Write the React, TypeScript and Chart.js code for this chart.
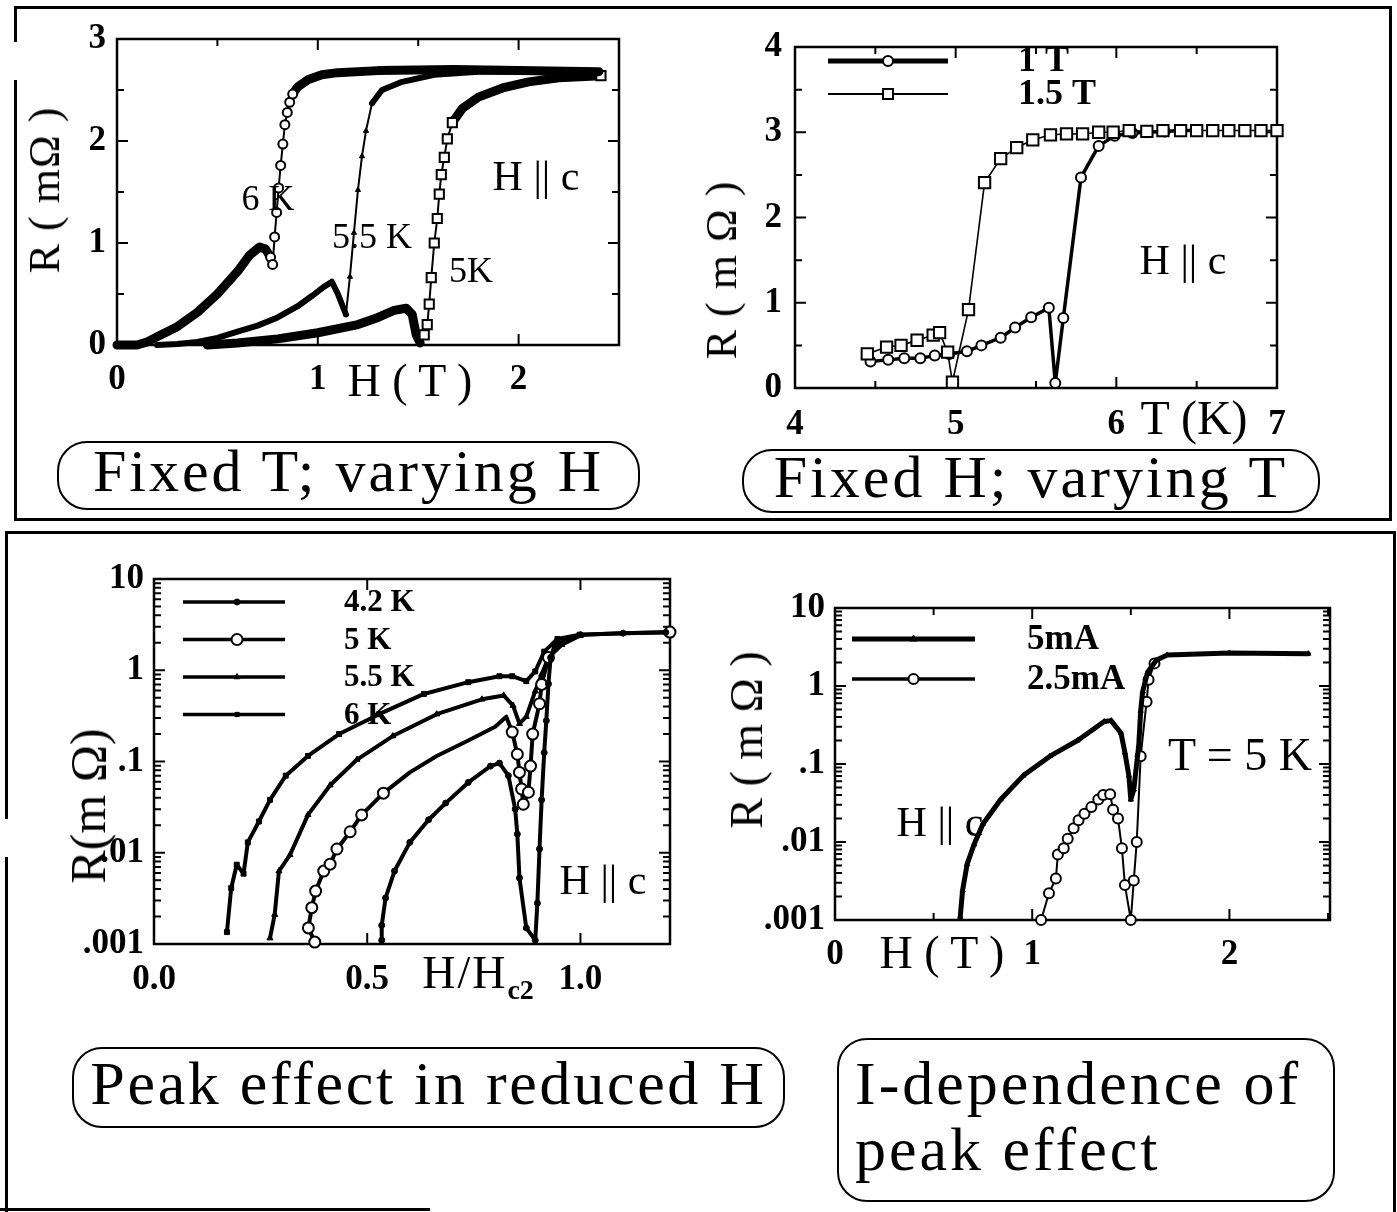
import React, { useEffect, useRef } from 'react';
import { Chart, registerables } from 'chart.js';

Chart.register(...registerables);

const SERIF = '"Liberation Serif", "Times New Roman", Times, serif';

// ---------- Fixed T, varying H : R (mΩ) vs H (T) ----------
const fieldAt6K = [0, 0.1, 0.15, 0.2, 0.3, 0.4, 0.5, 0.6, 0.66, 0.71, 0.74, 0.765, 0.775, 0.785, 0.795, 0.805, 0.815, 0.826, 0.836, 0.848, 0.86, 0.875, 0.9, 0.95, 1.02, 1.1, 1.3, 1.68, 2.0, 2.4];
const resAt6K = [0, 0, 0.03, 0.08, 0.18, 0.32, 0.5, 0.72, 0.88, 0.96, 0.94, 0.86, 0.79, 1.06, 1.3, 1.54, 1.76, 1.97, 2.16, 2.28, 2.38, 2.46, 2.53, 2.6, 2.65, 2.67, 2.69, 2.7, 2.69, 2.68];
const fieldAt55K = [0.2, 0.3, 0.4, 0.5, 0.6, 0.7, 0.8, 0.9, 0.97, 1.03, 1.07, 1.1, 1.14, 1.16, 1.18, 1.2, 1.22, 1.24, 1.27, 1.32, 1.42, 1.58, 1.8, 2.1];
const resAt55K = [0, 0.01, 0.03, 0.07, 0.13, 0.19, 0.27, 0.38, 0.48, 0.57, 0.62, 0.5, 0.3, 0.67, 1.1, 1.52, 1.85, 2.1, 2.37, 2.5, 2.58, 2.65, 2.68, 2.68];
const fieldAt5K = [0.45, 0.6, 0.8, 1.0, 1.2, 1.3, 1.38, 1.44, 1.47, 1.49, 1.51, 1.53, 1.545, 1.555, 1.565, 1.58, 1.595, 1.605, 1.615, 1.63, 1.645, 1.67, 1.72, 1.8, 1.92, 2.05, 2.2, 2.41];
const resAt5K = [0, 0.02, 0.06, 0.12, 0.2, 0.27, 0.34, 0.36, 0.3, 0.1, 0.02, 0.1, 0.2, 0.4, 0.66, 1.0, 1.24, 1.48, 1.67, 1.84, 2.02, 2.18, 2.32, 2.43, 2.52, 2.58, 2.62, 2.64];

// ---------- Fixed H, varying T : R (mΩ) vs T (K) ----------
const tempAt1T = [4.47, 4.58, 4.68, 4.78, 4.87, 4.96, 5.07, 5.16, 5.28, 5.37, 5.47, 5.58, 5.62, 5.67, 5.78, 5.89, 5.99, 6.1, 6.19, 6.3, 6.4, 6.5];
const resAt1T = [0.31, 0.33, 0.35, 0.35, 0.38, 0.4, 0.43, 0.5, 0.59, 0.71, 0.83, 0.94, 0.06, 0.82, 2.47, 2.84, 2.96, 2.99, 3.0, 3.01, 3.02, 3.02];
const tempAt15T = [4.45, 4.57, 4.66, 4.76, 4.86, 4.9, 4.95, 4.98, 5.08, 5.18, 5.28, 5.38, 5.48, 5.59, 5.69, 5.79, 5.89, 5.98, 6.08, 6.19, 6.29, 6.4, 6.5, 6.6, 6.7, 6.8, 6.9, 7.0];
const resAt15T = [0.4, 0.48, 0.5, 0.56, 0.62, 0.65, 0.42, 0.07, 0.92, 2.41, 2.69, 2.82, 2.91, 2.97, 2.98, 2.98, 3.0, 3.0, 3.02, 3.01, 3.02, 3.02, 3.02, 3.02, 3.02, 3.02, 3.02, 3.02];

// ---------- Reduced field H/Hc2 : R (mΩ), log ----------
const redAt42K = [0.534, 0.534, 0.543, 0.564, 0.6, 0.644, 0.684, 0.737, 0.789, 0.81, 0.831, 0.847, 0.852, 0.857, 0.873, 0.894, 0.899, 0.904, 0.909, 0.915, 0.92, 0.925, 0.93, 0.94, 1.0, 1.1, 1.2];
const logResAt42K = [0.0011, 0.0016, 0.0032, 0.0063, 0.013, 0.023, 0.035, 0.059, 0.089, 0.096, 0.07, 0.03, 0.016, 0.0053, 0.0015, 0.0011, 0.0028, 0.011, 0.038, 0.125, 0.28, 0.71, 1.38, 1.9, 2.45, 2.55, 2.6];
const redAt5K = [0.377, 0.362, 0.37, 0.379, 0.398, 0.413, 0.429, 0.46, 0.487, 0.538, 0.6, 0.663, 0.737, 0.8, 0.826, 0.84, 0.852, 0.857, 0.862, 0.866, 0.878, 0.883, 0.888, 0.904, 0.909, 0.925, 0.96, 1.0, 1.1, 1.21];
const logResAt5K = [0.00105, 0.0015, 0.0025, 0.0038, 0.0063, 0.0075, 0.011, 0.017, 0.026, 0.045, 0.076, 0.115, 0.17, 0.24, 0.31, 0.21, 0.12, 0.076, 0.05, 0.034, 0.046, 0.089, 0.2, 0.43, 0.7, 1.38, 2.1, 2.45, 2.55, 2.62];
const redAt55K = [0.272, 0.283, 0.293, 0.319, 0.361, 0.413, 0.476, 0.56, 0.663, 0.769, 0.82, 0.842, 0.857, 0.873, 0.894, 0.909, 0.925, 0.956, 1.0];
const logResAt55K = [0.00116, 0.0021, 0.0063, 0.0095, 0.026, 0.055, 0.105, 0.19, 0.33, 0.48, 0.53, 0.41, 0.26, 0.31, 0.59, 0.9, 1.38, 1.9, 2.4];
const redAt6K = [0.171, 0.181, 0.194, 0.21, 0.22, 0.246, 0.272, 0.309, 0.361, 0.434, 0.528, 0.633, 0.737, 0.81, 0.84, 0.873, 0.894, 0.915, 0.946, 0.998];
const logResAt6K = [0.00135, 0.0041, 0.0074, 0.0059, 0.013, 0.022, 0.038, 0.07, 0.115, 0.2, 0.33, 0.55, 0.74, 0.86, 0.86, 0.76, 0.97, 1.6, 2.2, 2.45];

// ---------- Current dependence, T = 5 K : R (mΩ) vs H (T), log ----------
const fieldAt5mA = [0.635, 0.647, 0.67, 0.705, 0.75, 0.84, 0.955, 1.09, 1.23, 1.365, 1.4, 1.45, 1.47, 1.49, 1.5, 1.515, 1.54, 1.55, 1.56, 1.585, 1.63, 1.685, 2.0, 2.4];
const resAt5mA = [0.0011, 0.0024, 0.0052, 0.0093, 0.017, 0.035, 0.071, 0.126, 0.2, 0.35, 0.36, 0.25, 0.14, 0.071, 0.035, 0.047, 0.17, 0.48, 0.85, 1.5, 2.15, 2.5, 2.65, 2.6];
const fieldAt25mA = [1.045, 1.085, 1.12, 1.13, 1.16, 1.18, 1.21, 1.235, 1.265, 1.3, 1.335, 1.36, 1.395, 1.41, 1.435, 1.455, 1.47, 1.5, 1.515, 1.53, 1.55, 1.58, 1.59, 1.62];
const resAt25mA = [0.001, 0.0022, 0.0034, 0.0069, 0.0083, 0.011, 0.015, 0.019, 0.023, 0.028, 0.035, 0.04, 0.041, 0.026, 0.02, 0.0083, 0.0028, 0.001, 0.0032, 0.01, 0.126, 0.63, 1.2, 1.95];

// tick labels
const decadeLabels: Record<string, string> = { '-3': '.001', '-2': '.01', '-1': '.1', '0': '1', '1': '10' };
const reducedLabels: Record<string, string> = { '0': '0.0', '0.5': '0.5', '1': '1.0' };

const xy = (xs: number[], ys: number[]) => xs.map((x, i) => ({ x, y: ys[i] }));

// ---------- layout ----------
type Area = { l: number; t: number; r: number; b: number };
const AXW = 100;
const AXH = 70;
const PADT = 25;
const PADR = 25;

const areaFixedT: Area = { l: 117, t: 32, r: 619, b: 345 };
const areaFixedH: Area = { l: 795, t: 38, r: 1277, b: 388 };
const areaReduced: Area = { l: 154, t: 573, r: 670, b: 944 };
const areaCurrent: Area = { l: 835, t: 602, r: 1330, b: 920 };

// ---------- drawing helpers ----------
function drawMarker(ctx: CanvasRenderingContext2D, style: string, x: number, y: number, r: number, fill: string, lw: number) {
  ctx.save();
  ctx.lineWidth = lw;
  ctx.strokeStyle = '#000';
  ctx.fillStyle = fill;
  ctx.beginPath();
  if (style === 'rect') {
    const s = r * Math.SQRT1_2;
    ctx.rect(x - s, y - s, 2 * s, 2 * s);
  } else if (style === 'triangle') {
    ctx.moveTo(x, y - r);
    ctx.lineTo(x + r * 0.866, y + r * 0.5);
    ctx.lineTo(x - r * 0.866, y + r * 0.5);
    ctx.closePath();
  } else {
    ctx.arc(x, y, r, 0, Math.PI * 2);
  }
  ctx.fill();
  ctx.stroke();
  ctx.restore();
}

const isIntegerMantissa = (v: number) => {
  const m = v / Math.pow(10, Math.floor(Math.log10(v) + 1e-9));
  return Math.abs(m - Math.round(m)) < 1e-6;
};

// Boxed frame with inward ticks on all four sides
const frameTicks = {
  id: 'frameTicks',
  beforeDatasetsDraw(chart: any, _args: any, opts: any) {
    const { ctx, chartArea: a } = chart;
    const major = opts.majorLength ?? 11;
    const minor = opts.minorLength ?? 7;
    ctx.save();
    ctx.strokeStyle = '#000';
    ctx.lineWidth = opts.tickWidth ?? 2;
    ctx.beginPath();
    const xs = chart.scales.x;
    for (const t of xs.ticks) {
      if (xs.type === 'logarithmic' && !isIntegerMantissa(t.value)) continue;
      const p = xs.getPixelForValue(t.value);
      const len = t.label ? major : minor;
      ctx.moveTo(p, a.bottom);
      ctx.lineTo(p, a.bottom - len);
      ctx.moveTo(p, a.top);
      ctx.lineTo(p, a.top + len);
    }
    const ys = chart.scales.y;
    for (const t of ys.ticks) {
      if (ys.type === 'logarithmic' && !isIntegerMantissa(t.value)) continue;
      const p = ys.getPixelForValue(t.value);
      const len = t.label ? major : minor;
      ctx.moveTo(a.left, p);
      ctx.lineTo(a.left + len, p);
      ctx.moveTo(a.right, p);
      ctx.lineTo(a.right - len, p);
    }
    ctx.stroke();
    ctx.lineWidth = opts.frameWidth ?? 2.5;
    ctx.strokeRect(a.left, a.top, a.right - a.left, a.bottom - a.top);
    ctx.restore();
  },
};

// Key drawn as a line segment with the series marker on it
const lineLegend = {
  id: 'lineLegend',
  afterDraw(chart: any, _args: any, opts: any) {
    if (!opts || opts.left == null) return;
    const { ctx, chartArea: a } = chart;
    ctx.save();
    ctx.font = opts.font;
    ctx.textBaseline = 'middle';
    ctx.textAlign = 'left';
    chart.data.datasets.forEach((ds: any, i: number) => {
      const y = a.top + opts.top + i * opts.rowGap;
      const x0 = a.left + opts.left;
      ctx.strokeStyle = '#000';
      ctx.lineWidth = ds.legendLineWidth;
      ctx.beginPath();
      ctx.moveTo(x0, y);
      ctx.lineTo(x0 + opts.lineLength, y);
      ctx.stroke();
      drawMarker(ctx, ds.pointStyle, x0 + opts.lineLength * opts.markerAt, y, ds.legendRadius, ds.pointBackgroundColor, ds.pointBorderWidth);
      ctx.fillStyle = '#000';
      ctx.fillText(ds.label, x0 + opts.textOffset, y + 1);
    });
    ctx.restore();
  },
};

// ---------- scale builders ----------
const tickFont = { family: SERIF, size: 35, weight: 'bold' as const };

function linearScale(min: number, max: number, step: number, label: (v: number) => string, padding: number, horizontal: boolean) {
  return {
    type: 'linear',
    min,
    max,
    grid: { display: false, drawTicks: false },
    border: { display: false },
    ticks: { stepSize: step, autoSkip: false, includeBounds: false, maxRotation: 0, padding, color: '#000', font: tickFont, callback: label },
    afterFit: (s: any) => {
      if (horizontal) s.height = AXH;
      else s.width = AXW;
    },
  };
}

function logScale(min: number, max: number, padding: number) {
  return {
    type: 'logarithmic',
    min,
    max,
    grid: { display: false, drawTicks: false },
    border: { display: false },
    ticks: {
      autoSkip: false,
      maxRotation: 0,
      padding,
      color: '#000',
      font: tickFont,
      callback: (v: number) => {
        const e = Math.log10(v);
        const r = Math.round(e);
        return Math.abs(e - r) < 1e-6 ? decadeLabels[String(r)] ?? '' : '';
      },
    },
    afterFit: (s: any) => {
      s.width = AXW;
    },
  };
}

const intLabel = (v: number) => (Number.isInteger(v) ? String(v) : '');

function baseOptions(x: any, y: any, legend: any) {
  return {
    responsive: false,
    animation: false,
    events: [],
    layout: { padding: { left: 0, top: PADT, right: PADR, bottom: 0 } },
    elements: { line: { tension: 0 } },
    plugins: {
      legend: { display: false },
      tooltip: { enabled: false },
      frameTicks: { majorLength: 11, minorLength: 7, tickWidth: 2, frameWidth: 2.5 },
      lineLegend: legend,
    },
    scales: { x, y },
  };
}

const between = (lo: number, hi: number) => (c: any) => {
  const x = c?.raw?.x;
  return x != null && x >= lo && x <= hi;
};
const thinSegment = (lo: number, hi: number, w: number) => (s: any) =>
  s.p0.parsed.x >= lo && s.p1.parsed.x <= hi ? w : undefined;

const lineBase = { borderColor: '#000', borderJoinStyle: 'round', borderCapStyle: 'round', pointBorderColor: '#000', clip: 12 };

// ---------- chart configs ----------
function fixedTConfig() {
  const in6 = between(0.76, 0.88);
  const in55 = between(1.14, 1.27);
  const in5 = between(1.53, 2.5);
  return {
    type: 'line',
    data: {
      datasets: [
        {
          ...lineBase, label: '6 K', data: xy(fieldAt6K, resAt6K), borderWidth: 9,
          pointStyle: 'circle', pointBackgroundColor: '#fff', pointBorderWidth: 2,
          pointRadius: (c: any) => (in6(c) ? 4.5 : 0),
          segment: { borderWidth: thinSegment(0.76, 0.88, 2) },
        },
        {
          ...lineBase, label: '5.5 K', data: xy(fieldAt55K, resAt55K), borderWidth: 6,
          pointStyle: 'triangle', pointBackgroundColor: '#000', pointBorderWidth: 1,
          pointRadius: (c: any) => (in55(c) ? 3 : 0),
          segment: { borderWidth: thinSegment(1.14, 1.27, 2) },
        },
        {
          ...lineBase, label: '5 K', data: xy(fieldAt5K, resAt5K), borderWidth: 9,
          pointStyle: 'rect', pointBackgroundColor: '#fff', pointBorderWidth: 2,
          pointRadius: (c: any) => (in5(c) && (c.raw.x <= 1.67 || c.raw.x >= 2.4) ? 6.5 : 0),
          segment: { borderWidth: thinSegment(1.51, 1.67, 2) },
        },
      ],
    },
    options: baseOptions(
      linearScale(0, 2.5, 0.5, intLabel, 14, true),
      linearScale(0, 3, 0.5, intLabel, 11, false),
      false,
    ),
    plugins: [frameTicks, lineLegend],
  };
}

function fixedHConfig() {
  return {
    type: 'line',
    data: {
      datasets: [
        {
          ...lineBase, label: '1 T', data: xy(tempAt1T, resAt1T), borderWidth: 3.5, order: 1,
          pointStyle: 'circle', pointBackgroundColor: '#fff', pointBorderWidth: 2, pointRadius: 5,
          legendLineWidth: 5, legendRadius: 5,
        },
        {
          ...lineBase, label: '1.5 T', data: xy(tempAt15T, resAt15T), borderWidth: 1.6, order: 0,
          pointStyle: 'rect', pointBackgroundColor: '#fff', pointBorderWidth: 2, pointRadius: 8,
          legendLineWidth: 2, legendRadius: 7,
        },
      ],
    },
    options: baseOptions(
      linearScale(4, 7, 0.5, intLabel, 16, true),
      linearScale(0, 4, 0.5, intLabel, 13, false),
      { left: 33, top: 14, rowGap: 33, lineLength: 120, markerAt: 0.5, textOffset: 190, font: `bold 36px ${SERIF}` },
    ),
    plugins: [frameTicks, lineLegend],
  };
}

function reducedConfig() {
  const last5 = redAt5K.length - 1;
  return {
    type: 'line',
    data: {
      datasets: [
        {
          ...lineBase, label: '4.2 K', data: xy(redAt42K, logResAt42K), borderWidth: 4,
          pointStyle: 'circle', pointBackgroundColor: '#000', pointBorderWidth: 1, pointRadius: 3,
          legendLineWidth: 3.5, legendRadius: 3,
        },
        {
          ...lineBase, label: '5 K', data: xy(redAt5K, logResAt5K), borderWidth: 4,
          pointStyle: 'circle', pointBackgroundColor: '#fff', pointBorderWidth: 2,
          pointRadius: (c: any) => {
            const x = c?.raw?.x;
            if (x == null) return 5.5;
            if (c.dataIndex === last5) return 5.5;
            return x > 0.93 || (x > 0.55 && x < 0.83) ? 0 : 5.5;
          },
          legendLineWidth: 3.5, legendRadius: 5.5,
        },
        {
          ...lineBase, label: '5.5 K', data: xy(redAt55K, logResAt55K), borderWidth: 4,
          pointStyle: 'triangle', pointBackgroundColor: '#000', pointBorderWidth: 1, pointRadius: 3.5,
          legendLineWidth: 3.5, legendRadius: 3.5,
        },
        {
          ...lineBase, label: '6 K', data: xy(redAt6K, logResAt6K), borderWidth: 4,
          pointStyle: 'rect', pointBackgroundColor: '#000', pointBorderWidth: 1, pointRadius: 3.5,
          legendLineWidth: 3.5, legendRadius: 3,
        },
      ],
    },
    options: baseOptions(
      linearScale(0, 1.21, 0.5, (v: number) => reducedLabels[String(v)] ?? '', 15, true),
      logScale(0.001, 10, 10),
      { left: 29, top: 23, rowGap: 37.5, lineLength: 102, markerAt: 0.53, textOffset: 161, font: `bold 31px ${SERIF}` },
    ),
    plugins: [frameTicks, lineLegend],
  };
}

function currentConfig() {
  return {
    type: 'line',
    data: {
      datasets: [
        {
          ...lineBase, label: '5mA', data: xy(fieldAt5mA, resAt5mA), borderWidth: 5,
          pointStyle: 'triangle', pointBackgroundColor: '#000', pointBorderWidth: 1, pointRadius: 3,
          legendLineWidth: 5, legendRadius: 4,
        },
        {
          ...lineBase, label: '2.5mA', data: xy(fieldAt25mA, resAt25mA), borderWidth: 2,
          pointStyle: 'circle', pointBackgroundColor: '#fff', pointBorderWidth: 2, pointRadius: 5,
          legendLineWidth: 3.5, legendRadius: 5,
        },
      ],
    },
    options: baseOptions(
      linearScale(0, 2.51, 0.5, intLabel, 14, true),
      logScale(0.001, 10, 10),
      { left: 17, top: 31, rowGap: 40, lineLength: 123, markerAt: 0.5, textOffset: 175, font: `bold 35px ${SERIF}` },
    ),
    plugins: [frameTicks, lineLegend],
  };
}

// ---------- components ----------
function ChartBox({ area, build }: { area: Area; build: () => any }) {
  const ref = useRef<HTMLCanvasElement | null>(null);
  const w = area.r - area.l + AXW + PADR;
  const h = area.b - area.t + PADT + AXH;
  useEffect(() => {
    const chart = new Chart(ref.current as HTMLCanvasElement, build());
    return () => chart.destroy();
  }, []);
  return (
    <canvas
      ref={ref}
      width={w}
      height={h}
      style={{ position: 'absolute', left: area.l - AXW, top: area.t - PADT, width: w, height: h }}
    />
  );
}

function Text({ x, y, size, rotate, bold, spacing, children }: any) {
  return (
    <div
      style={{
        position: 'absolute',
        left: x,
        top: y,
        transform: `translate(-50%, -50%)${rotate ? ' rotate(-90deg)' : ''}`,
        fontFamily: SERIF,
        fontSize: size,
        fontWeight: bold ? 'bold' : 'normal',
        letterSpacing: spacing ?? 0,
        whiteSpace: 'nowrap',
        lineHeight: 1,
        color: '#000',
      }}
    >
      {children}
    </div>
  );
}

function Line({ x, y, w, h }: any) {
  return <div style={{ position: 'absolute', left: x, top: y, width: w, height: h, background: '#000' }} />;
}

function Caption({ x, y, w, h, size, spacing, align, children }: any) {
  return (
    <div
      style={{
        position: 'absolute',
        left: x,
        top: y,
        width: w,
        height: h,
        boxSizing: 'border-box',
        border: '2.5px solid #000',
        borderRadius: 30,
        display: 'flex',
        flexDirection: 'column',
        justifyContent: 'center',
        alignItems: align === 'left' ? 'flex-start' : 'center',
        paddingLeft: align === 'left' ? 16 : 0,
        paddingBottom: 9,
        fontFamily: SERIF,
        fontSize: size,
        letterSpacing: spacing,
        lineHeight: 1.0,
        color: '#000',
        whiteSpace: 'nowrap',
      }}
    >
      {children}
    </div>
  );
}

export default function App() {
  return (
    <div style={{ position: 'absolute', left: 0, top: 0, width: 1397, height: 1212, background: '#fff', overflow: 'hidden' }}>
      {/* panel frames */}
      <Line x={15} y={6} w={1377} h={3} />
      <Line x={14} y={6} w={3} h={36} />
      <Line x={14} y={80} w={3} h={441} />
      <Line x={1389} y={6} w={3} h={515} />
      <Line x={14} y={518} w={1378} h={3} />
      <Line x={5} y={531} w={1391} h={3} />
      <Line x={5} y={531} w={3} h={288} />
      <Line x={5} y={857} w={3} h={355} />
      <Line x={1393} y={531} w={3} h={681} />
      <Line x={0} y={1208} w={430} h={3} />

      <ChartBox area={areaFixedT} build={fixedTConfig} />
      <ChartBox area={areaFixedH} build={fixedHConfig} />
      <ChartBox area={areaReduced} build={reducedConfig} />
      <ChartBox area={areaCurrent} build={currentConfig} />

      {/* Fixed T panel */}
      <Text x={45} y={190} size={44} rotate spacing={1}>R ( mΩ )</Text>
      <Text x={410} y={381} size={46}>H ( T )</Text>
      <Text x={268} y={198} size={36}>6 K</Text>
      <Text x={372} y={236} size={36}>5.5 K</Text>
      <Text x={471} y={270} size={36}>5K</Text>
      <Text x={536} y={176} size={42}>H || c</Text>

      {/* Fixed H panel */}
      <Text x={722} y={270} size={44} rotate spacing={1}>R ( m Ω )</Text>
      <Text x={1194} y={418} size={48}>T (K)</Text>
      <Text x={1183} y={260} size={42}>H || c</Text>

      {/* Reduced field panel */}
      <Text x={88} y={806} size={50} rotate>R(m Ω)</Text>
      <Text x={478} y={977} size={46} spacing={2}>
        H/H<sub style={{ fontSize: 28, fontWeight: 'bold', letterSpacing: 0 }}>c2</sub>
      </Text>
      <Text x={603} y={880} size={42}>H || c</Text>

      {/* Current dependence panel */}
      <Text x={747} y={740} size={46} rotate>R ( m Ω )</Text>
      <Text x={942} y={953} size={46}>H ( T )</Text>
      <Text x={1240} y={755} size={46}>T = 5 K</Text>
      <Text x={940} y={822} size={42}>H || c</Text>

      {/* captions */}
      <Caption x={57} y={441} w={583} h={69} size={60} spacing={3}>Fixed T; varying H</Caption>
      <Caption x={742} y={449} w={578} h={64} size={60} spacing={3}>Fixed H; varying T</Caption>
      <Caption x={72} y={1047} w={713} h={81} size={62} spacing={2.7}>Peak effect in reduced H</Caption>
      <Caption x={837} y={1038} w={498} h={164} size={62} spacing={3} align="left">
        <div>I-dependence of</div>
        <div style={{ marginTop: 4 }}>peak effect</div>
      </Caption>
    </div>
  );
}
